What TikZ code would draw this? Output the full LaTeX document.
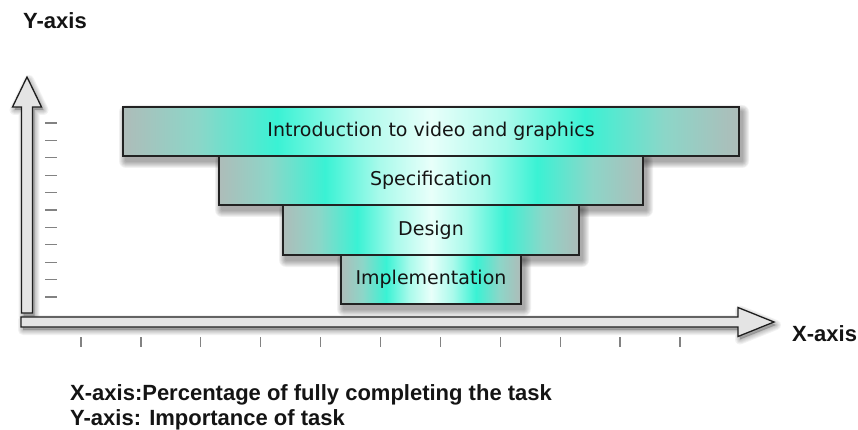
\documentclass[tikz,border=0pt]{standalone}
\usepackage{fontspec}
\setmainfont{Liberation Sans}
\newfontfamily\barfont{DejaVu Sans}

\definecolor{baredge}{RGB}{174,188,185}
\definecolor{barmidl}{RGB}{140,214,200}
\definecolor{baraqua}{RGB}{58,242,212}
\definecolor{barsoft}{RGB}{170,250,235}
\definecolor{barpale}{RGB}{232,255,250}
\definecolor{barline}{RGB}{34,34,34}
\definecolor{axisfill}{RGB}{228,228,228}
\definecolor{axisline}{RGB}{30,30,30}
\definecolor{tickgrey}{RGB}{130,130,130}
\definecolor{labeltext}{RGB}{20,20,20}

% left-to-right bar fill: grey edges, aqua bands, pale centre
\pgfdeclarehorizontalshading{barshade}{100bp}{%
  color(0bp)=(baredge); color(25bp)=(baredge); color(31bp)=(barmidl);
  color(37.5bp)=(baraqua); color(44bp)=(barsoft); color(50bp)=(barpale);
  color(56bp)=(barsoft); color(62.5bp)=(baraqua); color(69bp)=(barmidl);
  color(75bp)=(baredge); color(100bp)=(baredge)}

\pgfdeclarelayer{background}
\pgfsetlayers{background,main}

\begin{document}
\begin{tikzpicture}[x=1pt, y=-1pt,
  barbox/.style={draw=barline, line width=1.4pt, shading=barshade,
    inner sep=0pt, outer sep=0pt, text=labeltext,
    font=\barfont\fontsize{19}{22}\selectfont},
  axisbody/.style={fill=axisfill, draw=axisline, line width=1.3pt, line join=miter},
  axisshadow/.style={fill=black, draw=black, opacity=0.05, line join=round},
  tickmark/.style={draw=tickgrey, line width=1.3pt},
  axislabel/.style={font=\bfseries\fontsize{22}{26}\selectfont, inner sep=0pt,
    text=labeltext, anchor=base west},
]
\useasboundingbox (0,0) rectangle (858,430);

% ---- axes (soft shadow first, then the arrow bodies)
\foreach \w in {2,4,6,8,10}{
  \path[axisshadow, line width=\w pt, shift={(2,3)}]
    (21.5,313) -- (21.5,107) -- (12.5,107) -- (27,77) -- (41.5,107)
    -- (32.5,107) -- (32.5,313) -- cycle;
  \path[axisshadow, line width=\w pt, shift={(2,3)}]
    (21,317) -- (738,317) -- (738,307.5) -- (774,322) -- (738,336.5)
    -- (738,327) -- (21,327) -- cycle;
}
\path[axisbody] (21.5,313) -- (21.5,107) -- (12.5,107) -- (27,77)
  -- (41.5,107) -- (32.5,107) -- (32.5,313) -- cycle;
\path[axisbody] (21,317) -- (738,317) -- (738,307.5) -- (774,322)
  -- (738,336.5) -- (738,327) -- (21,327) -- cycle;

% ---- tick marks
\foreach \i in {0,...,10}
  \draw[tickmark] (45,{123+17.4*\i}) -- (57,{123+17.4*\i});
\foreach \i in {0,...,10}
  \draw[tickmark] ({81+59.9*\i},337) -- ({81+59.9*\i},347);

% ---- task bars
\node[barbox, minimum width=616pt, minimum height=49pt] (intro) at (431,131.5)
  {Introduction to video and graphics};
\node[barbox, minimum width=424pt, minimum height=49pt] (spec) at (431,180.5)
  {Specification};
\node[barbox, minimum width=296pt, minimum height=50pt] (design) at (431,230)
  {Design};
\node[barbox, minimum width=180pt, minimum height=49pt] (impl) at (431,279.5)
  {Implementation};

% ---- soft drop shadows behind the bars
\begin{pgfonlayer}{background}
\foreach \n in {intro,spec,design,impl}{
  \foreach \k in {1,...,7}{
    \fill[black, opacity=0.055, rounded corners=\k pt]
      ([shift={(3-\k,5-\k)}]\n.north west) rectangle ([shift={(3+\k,5+\k)}]\n.south east);
  }
}
\end{pgfonlayer}

% ---- labels
\node[axislabel] (ylabel) at (23,29) {Y-axis};
\node[axislabel] (xlabel) at (792,341.5) {X-axis};
\node[axislabel] (xnote) at (70,400) {X-axis:Percentage of fully completing the task};
\node[axislabel] (ynote) at (70,425) {Y-axis: Importance of task};
\end{tikzpicture}
\end{document}
